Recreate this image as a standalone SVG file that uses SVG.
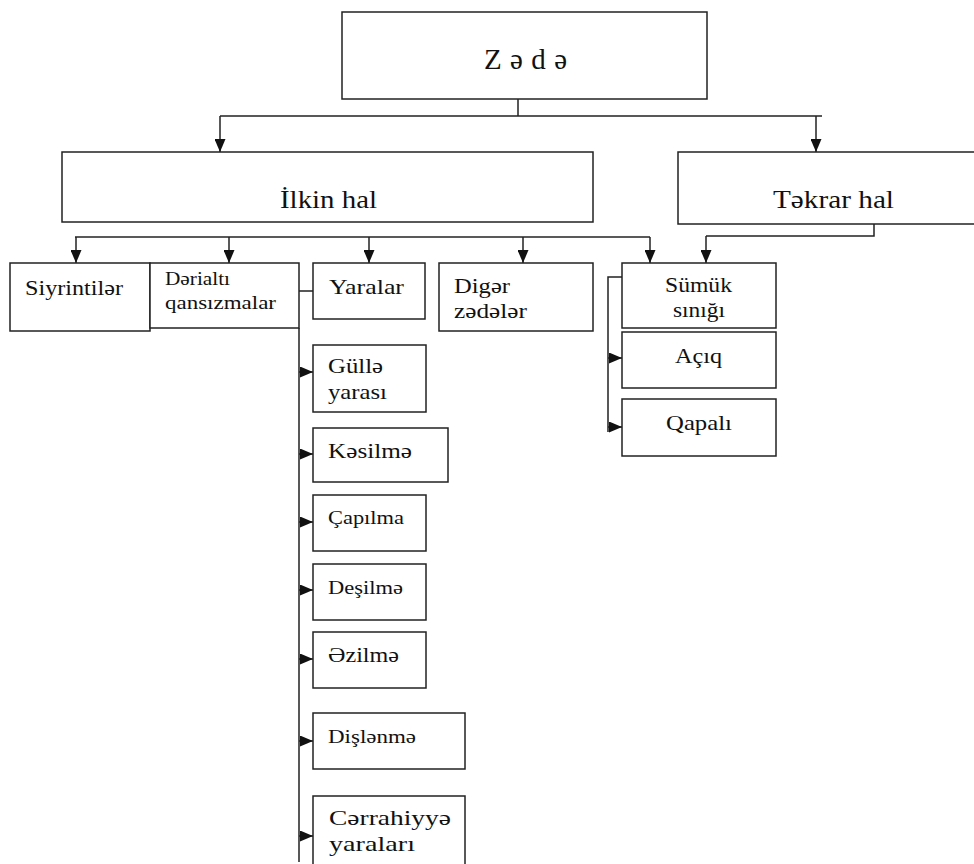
<svg xmlns="http://www.w3.org/2000/svg" width="974" height="864" viewBox="0 0 974 864">
<style>
.box{fill:#fff;stroke:#222;stroke-width:1.5}
text{font-family:'Liberation Serif','Tinos','DejaVu Serif',serif;fill:#111}
.ln{fill:none;stroke:#222;stroke-width:1.5}
.ar{fill:none;stroke:#222;stroke-width:1.5;marker-end:url(#ah)}
</style>
<defs>
<marker id="ah" markerUnits="userSpaceOnUse" markerWidth="13" markerHeight="11" refX="13" refY="5.5" orient="auto">
<path d="M0,0 L13,5.5 L0,11 z" fill="#111"/>
</marker>
</defs>
<rect width="974" height="864" fill="#fff"/>
<g id="connectors">
<path class="ln" d="M518 99 V116 M220 116 H822"/>
<path class="ar" d="M220 116 V152"/>
<path class="ar" d="M816 116 V152"/>
<path class="ln" d="M75 237 H650"/>
<path class="ar" d="M76 237 V263"/>
<path class="ar" d="M229 237 V263"/>
<path class="ar" d="M369 237 V263"/>
<path class="ar" d="M523 237 V263"/>
<path class="ar" d="M650 237 V263"/>
<path class="ln" d="M874 224 V236 H706"/>
<path class="ar" d="M706 236 V263"/>
<path class="ln" d="M299 291 H313 M299 328 V862"/>
<path class="ar" d="M299 372 H313"/>
<path class="ar" d="M299 454 H313"/>
<path class="ar" d="M299 522 H313"/>
<path class="ar" d="M299 590 H313"/>
<path class="ar" d="M299 659 H313"/>
<path class="ar" d="M299 741 H313"/>
<path class="ar" d="M299 836 H313"/>
<path class="ln" d="M622 277 H608 V432"/>
<path class="ar" d="M608 358 H622"/>
<path class="ar" d="M608 427 H622"/>
</g>
<g id="zede"><rect class="box" x="342" y="12" width="365" height="87"/>
<text x="484" y="69" font-size="29" textLength="83" lengthAdjust="spacing">Zədə</text></g>
<g id="ilkin"><rect class="box" x="62" y="152" width="531" height="70"/>
<text x="280" y="208" font-size="25" textLength="97" lengthAdjust="spacingAndGlyphs">İlkin hal</text></g>
<g id="tekrar"><rect class="box" x="678" y="152" width="300" height="72"/>
<text x="773" y="208" font-size="25" textLength="121" lengthAdjust="spacingAndGlyphs">Təkrar hal</text></g>
<g id="siyrintiler"><rect class="box" x="10" y="263" width="140" height="68"/>
<text x="25" y="295" font-size="22" textLength="98" lengthAdjust="spacingAndGlyphs">Siyrintilər</text></g>
<g id="derialti"><rect class="box" x="150" y="263" width="149" height="65"/>
<text x="165" y="285" font-size="19" textLength="65" lengthAdjust="spacingAndGlyphs">Dərialtı</text>
<text x="165" y="309" font-size="19" textLength="111" lengthAdjust="spacingAndGlyphs">qansızmalar</text></g>
<g id="yaralar"><rect class="box" x="313" y="263" width="112" height="56"/>
<text x="329" y="294" font-size="22" textLength="75" lengthAdjust="spacingAndGlyphs">Yaralar</text></g>
<g id="diger"><rect class="box" x="439" y="263" width="154" height="68"/>
<text x="454" y="293" font-size="21" textLength="56" lengthAdjust="spacingAndGlyphs">Digər</text>
<text x="454" y="318" font-size="21" textLength="73" lengthAdjust="spacingAndGlyphs">zədələr</text></g>
<g id="sumuk"><rect class="box" x="622" y="263" width="154" height="65"/>
<text x="665" y="292" font-size="21" textLength="67" lengthAdjust="spacingAndGlyphs">Sümük</text>
<text x="673" y="317" font-size="21" textLength="52" lengthAdjust="spacingAndGlyphs">sınığı</text></g>
<g id="aciq"><rect class="box" x="622" y="332" width="154" height="56"/>
<text x="675" y="363" font-size="21" textLength="47" lengthAdjust="spacingAndGlyphs">Açıq</text></g>
<g id="qapali"><rect class="box" x="622" y="399" width="154" height="57"/>
<text x="666" y="430" font-size="21" textLength="66" lengthAdjust="spacingAndGlyphs">Qapalı</text></g>
<g id="gulle"><rect class="box" x="313" y="345" width="113" height="67"/>
<text x="328" y="373" font-size="21" textLength="55" lengthAdjust="spacingAndGlyphs">Güllə</text>
<text x="328" y="399" font-size="21" textLength="59" lengthAdjust="spacingAndGlyphs">yarası</text></g>
<g id="kesilme"><rect class="box" x="313" y="428" width="135" height="54"/>
<text x="328" y="458" font-size="21" textLength="84" lengthAdjust="spacingAndGlyphs">Kəsilmə</text></g>
<g id="capilma"><rect class="box" x="313" y="495" width="113" height="56"/>
<text x="328" y="524" font-size="19" textLength="76" lengthAdjust="spacingAndGlyphs">Çapılma</text></g>
<g id="desilme"><rect class="box" x="313" y="564" width="113" height="56"/>
<text x="328" y="594" font-size="19" textLength="75" lengthAdjust="spacingAndGlyphs">Deşilmə</text></g>
<g id="ezilme"><rect class="box" x="313" y="632" width="113" height="56"/>
<text x="328" y="662" font-size="21" textLength="71" lengthAdjust="spacingAndGlyphs">Əzilmə</text></g>
<g id="dislenme"><rect class="box" x="313" y="713" width="152" height="56"/>
<text x="328" y="743" font-size="19" textLength="88" lengthAdjust="spacingAndGlyphs">Dişlənmə</text></g>
<g id="cerrahiyye"><rect class="box" x="313" y="796" width="152" height="80"/>
<text x="329" y="825" font-size="21" textLength="122" lengthAdjust="spacingAndGlyphs">Cərrahiyyə</text>
<text x="329" y="851" font-size="21" textLength="86" lengthAdjust="spacingAndGlyphs">yaraları</text></g>
</svg>
